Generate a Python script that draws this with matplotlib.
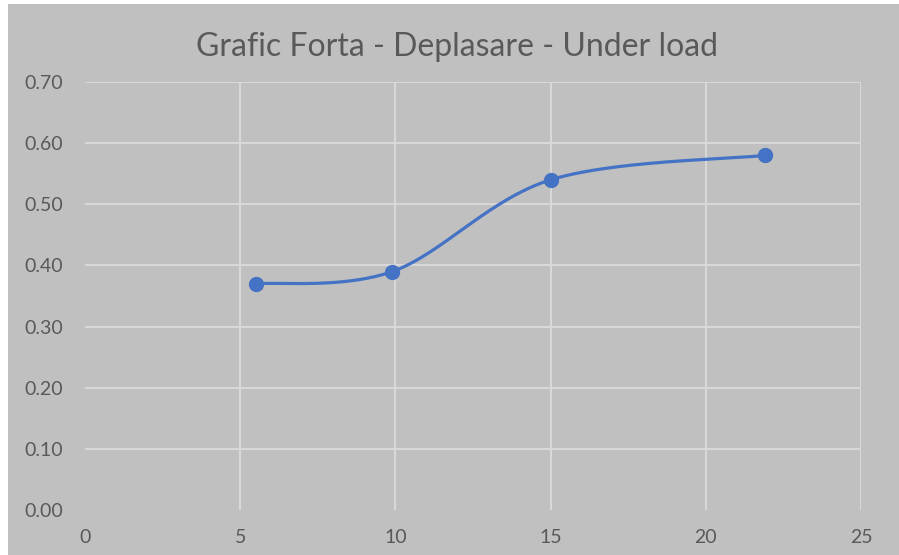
import numpy as np
import matplotlib
matplotlib.use('Agg')
import matplotlib.pyplot as plt
from matplotlib.patches import Rectangle

# Forta - Deplasare, under load
deplasare = [5.5, 9.9, 15.0, 21.9]
forta = [0.37, 0.39, 0.54, 0.58]
x_ticks = [0, 5, 10, 15, 20, 25]
y_ticks = [0.0, 0.1, 0.2, 0.3, 0.4, 0.5, 0.6, 0.7]

bg = '#c0c0c0'
txt = '#595959'
blue = '#4472c4'


def smooth(xs, ys, n=60):
    # Excel-like smoothed line: cubic bezier with catmull-rom control points
    xs = np.asarray(xs, float)
    ys = np.asarray(ys, float)
    px, py = [], []
    for i in range(len(xs) - 1):
        x0, y0 = (xs[i - 1], ys[i - 1]) if i > 0 else (xs[i], ys[i])
        x3, y3 = (xs[i + 2], ys[i + 2]) if i + 2 < len(xs) else (xs[i + 1], ys[i + 1])
        c1 = (xs[i] + (xs[i + 1] - x0) / 6, ys[i] + (ys[i + 1] - y0) / 6)
        c2 = (xs[i + 1] - (x3 - xs[i]) / 6, ys[i + 1] - (y3 - ys[i]) / 6)
        t = np.linspace(0, 1, n)
        px.append((1 - t)**3 * xs[i] + 3 * (1 - t)**2 * t * c1[0] + 3 * (1 - t) * t**2 * c2[0] + t**3 * xs[i + 1])
        py.append((1 - t)**3 * ys[i] + 3 * (1 - t)**2 * t * c1[1] + 3 * (1 - t) * t**2 * c2[1] + t**3 * ys[i + 1])
    return np.concatenate(px), np.concatenate(py)


plt.rcParams['font.family'] = ['Lato', 'DejaVu Sans']

fig = plt.figure(figsize=(8.99, 5.55), dpi=100)
fig.patch.set_facecolor('white')
fig.patches.append(Rectangle((8 / 899, 0), 1, 551 / 555, transform=fig.transFigure,
                             facecolor=bg, edgecolor='none', zorder=0))

ax = fig.add_axes([85 / 899, 45 / 555, 776 / 899, 428 / 555])
ax.set_zorder(2)
ax.patch.set_alpha(0)

sx, sy = smooth(deplasare, forta)
ax.plot(sx, sy, color=blue, lw=2.3, solid_capstyle='round', zorder=3)
ax.plot(deplasare, forta, 'o', color=blue, markersize=10, zorder=4)

ax.set_xlim(0, 25)
ax.set_ylim(0, 0.7)
ax.set_xticks(x_ticks)
ax.set_yticks(y_ticks)
ax.set_yticklabels([f'{v:.2f}' for v in y_ticks])

for v in x_ticks[1:]:
    ax.axvline(v, color='#d9d9d9', lw=1.4, zorder=1)
for v in y_ticks[1:]:
    ax.axhline(v, color='#d9d9d9', lw=1.4, zorder=1)

for s in ax.spines.values():
    s.set_visible(False)
ax.tick_params(length=0, labelsize=14, labelcolor=txt)
ax.tick_params(axis='y', pad=16)
ax.tick_params(axis='x', pad=14)

fig.text(457 / 899, 1 - 47 / 555, 'Grafic Forta - Deplasare - Under load',
         ha='center', va='center', fontsize=23, color=txt, zorder=3)

fig.savefig('out.png', dpi=100, facecolor=fig.get_facecolor())
